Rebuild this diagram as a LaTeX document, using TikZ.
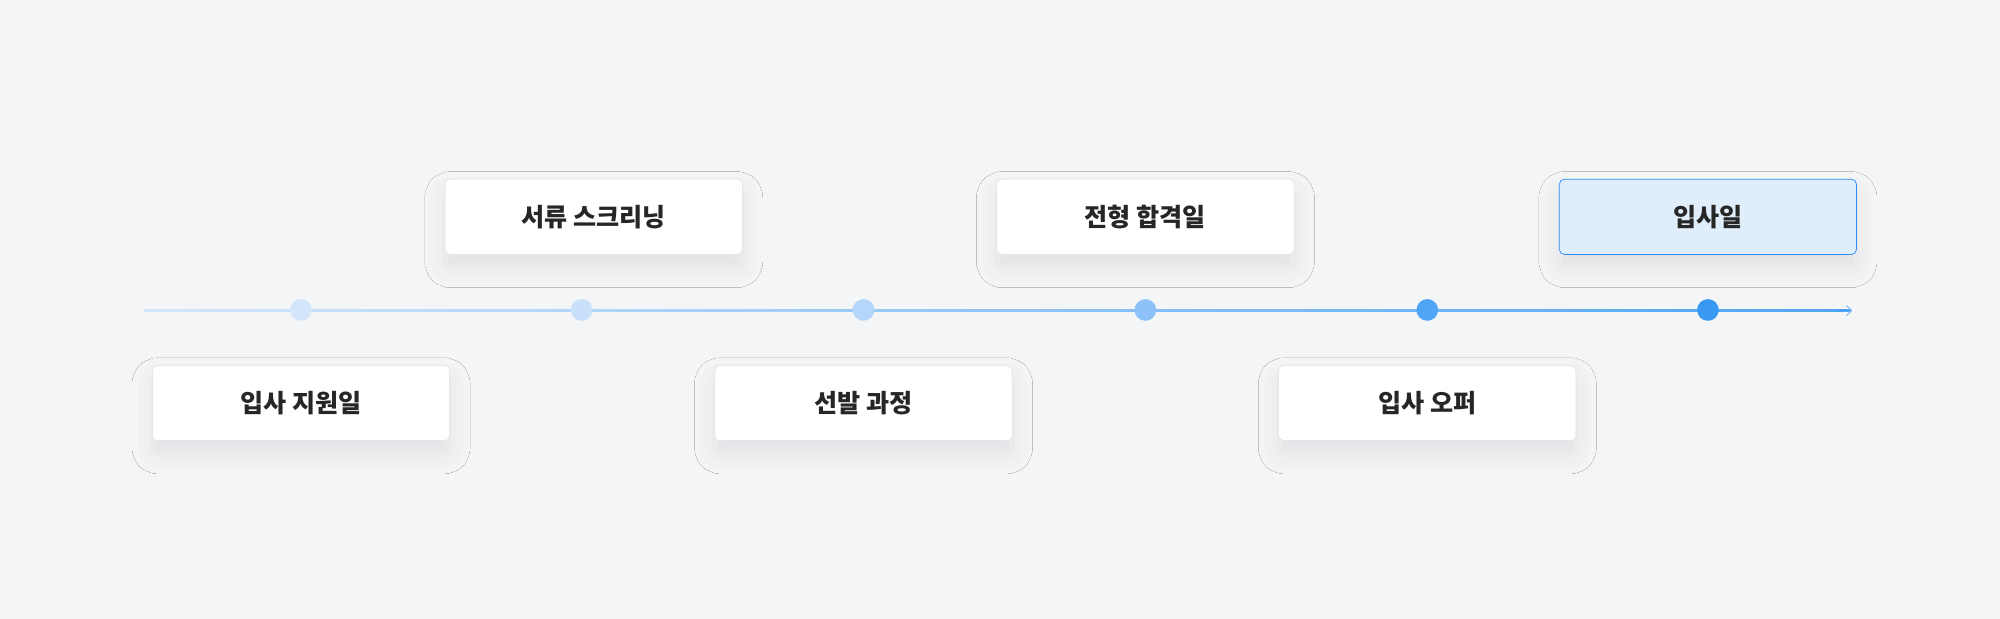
\documentclass[tikz,border=0pt]{standalone}
\usepackage{fontspec}
\setmainfont{Noto Sans CJK KR}
\usetikzlibrary{shadows.blur,arrows.meta}
\definecolor{bg}{HTML}{F4F5F7}
\definecolor{bd}{HTML}{DCDFE4}
\definecolor{hl}{HTML}{E0EEFC}
\definecolor{hlb}{HTML}{2F8DF0}
\definecolor{c1}{HTML}{D3E5FA}
\definecolor{c2}{HTML}{C9E0FA}
\definecolor{c3}{HTML}{B3D6FA}
\definecolor{c4}{HTML}{8CC2F8}
\definecolor{c5}{HTML}{4FA5F6}
\definecolor{c6}{HTML}{3898F2}
\tikzset{
 card/.style={draw=bd,line width=0.5pt,fill=white,rounded corners=2mm,minimum width=116.5mm,minimum height=29.5mm,
   font=\bfseries\fontsize{28}{32}\selectfont,text=black!85,
   blur shadow={shadow xshift=0mm,shadow yshift=-5mm,shadow blur radius=8mm,shadow opacity=8}},
 cardhl/.style={card,fill=hl,draw=hlb,line width=0.8pt},
 dot/.style={circle,minimum size=8.5mm,inner sep=0}
}
\begin{document}
\begin{tikzpicture}[x=0.5mm,y=-0.5mm]
\fill[bg] (0,0) rectangle (1568,485);
\useasboundingbox (0,0) rectangle (1568,485);
\coordinate (s) at (113,243.5);
\coordinate (e) at (1452,243.5);
\shade[left color=c1,right color=c5] (113,243) rectangle (1450,244.2);
\draw[c6,line width=0.7pt,-{Straight Barb[length=2mm,width=4mm]}] (1440,243.6) -- (e);
\node[dot,fill=c1] (d1) at (236,243) {};
\node[dot,fill=c2] (d2) at (456,243) {};
\node[dot,fill=c3] (d3) at (677,243) {};
\node[dot,fill=c4] (d4) at (898,243) {};
\node[dot,fill=c5] (d5) at (1119,243) {};
\node[dot,fill=c6] (d6) at (1339,243) {};
\node[card] (b1) at (236,316) {입사 지원일};
\node[card] (b2) at (465.5,170) {서류 스크리닝};
\node[card] (b3) at (677,316) {선발 과정};
\node[card] (b4) at (898,170) {전형 합격일};
\node[card] (b5) at (1119,316) {입사 오퍼};
\node[cardhl] (b6) at (1339,170) {입사일};
\end{tikzpicture}
\end{document}
